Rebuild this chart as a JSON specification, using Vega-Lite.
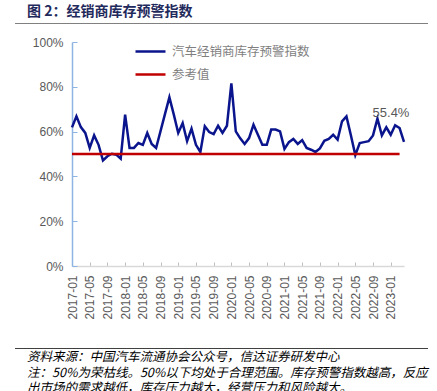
{
  "$schema": "https://vega.github.io/schema/vega-lite/v6.json",
  "padding": {"left": 15, "top": 5, "right": 9, "bottom": 0},
  "spacing": 11,
  "resolve": {"scale": {"color": "independent"}, "legend": {"color": "independent"}},
  "config": {"view": {"stroke": null}, "font": "Liberation Sans"},
  "vconcat": [
    {
      "width": 413,
      "height": 1,
      "view": {"fill": "#808080", "stroke": null},
      "title": {"text": "图 2：经销商库存预警指数", "anchor": "start", "dx": 12, "offset": 4, "font": "Noto Sans CJK SC", "fontSize": 14, "fontWeight": "bold", "color": "#1f2a5c"},
      "data": {"values": []},
      "mark": "point"
    },
    {
      "spacing": 10,
      "resolve": {"scale": {"color": "independent"}, "legend": {"color": "independent"}},
      "hconcat": [
        {"width": 7, "height": 295, "data": {"values": []}, "mark": "point"},
        {
          "width": 332,
          "height": 224,
          "data": {"values": [
            {"month": "2017-01", "汽车经销商库存预警指数": 61.9, "参考值": 50},
            {"month": "2017-02", "汽车经销商库存预警指数": 66.8, "参考值": 50},
            {"month": "2017-03", "汽车经销商库存预警指数": 62.0, "参考值": 50},
            {"month": "2017-04", "汽车经销商库存预警指数": 59.4, "参考值": 50},
            {"month": "2017-05", "汽车经销商库存预警指数": 52.7, "参考值": 50},
            {"month": "2017-06", "汽车经销商库存预警指数": 58.3, "参考值": 50},
            {"month": "2017-07", "汽车经销商库存预警指数": 54.1, "参考值": 50},
            {"month": "2017-08", "汽车经销商库存预警指数": 47.1, "参考值": 50},
            {"month": "2017-09", "汽车经销商库存预警指数": 49.0, "参考值": 50},
            {"month": "2017-10", "汽车经销商库存预警指数": 50.1, "参考值": 50},
            {"month": "2017-11", "汽车经销商库存预警指数": 49.7, "参考值": 50},
            {"month": "2017-12", "汽车经销商库存预警指数": 47.9, "参考值": 50},
            {"month": "2018-01", "汽车经销商库存预警指数": 67.6, "参考值": 50},
            {"month": "2018-02", "汽车经销商库存预警指数": 52.7, "参考值": 50},
            {"month": "2018-03", "汽车经销商库存预警指数": 52.7, "参考值": 50},
            {"month": "2018-04", "汽车经销商库存预警指数": 54.9, "参考值": 50},
            {"month": "2018-05", "汽车经销商库存预警指数": 54.1, "参考值": 50},
            {"month": "2018-06", "汽车经销商库存预警指数": 59.4, "参考值": 50},
            {"month": "2018-07", "汽车经销商库存预警指数": 54.5, "参考值": 50},
            {"month": "2018-08", "汽车经销商库存预警指数": 52.7, "参考值": 50},
            {"month": "2018-09", "汽车经销商库存预警指数": 60.2, "参考值": 50},
            {"month": "2018-10", "汽车经销商库存预警指数": 67.8, "参考值": 50},
            {"month": "2018-11", "汽车经销商库存预警指数": 75.3, "参考值": 50},
            {"month": "2018-12", "汽车经销商库存预警指数": 67.6, "参考值": 50},
            {"month": "2019-01", "汽车经销商库存预警指数": 59.4, "参考值": 50},
            {"month": "2019-02", "汽车经销商库存预警指数": 63.8, "参考值": 50},
            {"month": "2019-03", "汽车经销商库存预警指数": 55.7, "参考值": 50},
            {"month": "2019-04", "汽车经销商库存预警指数": 61.3, "参考值": 50},
            {"month": "2019-05", "汽车经销商库存预警指数": 54.1, "参考值": 50},
            {"month": "2019-06", "汽车经销商库存预警指数": 50.9, "参考值": 50},
            {"month": "2019-07", "汽车经销商库存预警指数": 62.4, "参考值": 50},
            {"month": "2019-08", "汽车经销商库存预警指数": 59.8, "参考值": 50},
            {"month": "2019-09", "汽车经销商库存预警指数": 58.9, "参考值": 50},
            {"month": "2019-10", "汽车经销商库存预警指数": 62.6, "参考值": 50},
            {"month": "2019-11", "汽车经销商库存预警指数": 59.4, "参考值": 50},
            {"month": "2019-12", "汽车经销商库存预警指数": 62.6, "参考值": 50},
            {"month": "2020-01", "汽车经销商库存预警指数": 81.5, "参考值": 50},
            {"month": "2020-02", "汽车经销商库存预警指数": 60.1, "参考值": 50},
            {"month": "2020-03", "汽车经销商库存预警指数": 57.0, "参考值": 50},
            {"month": "2020-04", "汽车经销商库存预警指数": 54.5, "参考值": 50},
            {"month": "2020-05", "汽车经销商库存预警指数": 57.1, "参考值": 50},
            {"month": "2020-06", "汽车经销商库存预警指数": 63.1, "参考值": 50},
            {"month": "2020-07", "汽车经销商库存预警指数": 58.6, "参考值": 50},
            {"month": "2020-08", "汽车经销商库存预警指数": 54.1, "参考值": 50},
            {"month": "2020-09", "汽车经销商库存预警指数": 54.1, "参考值": 50},
            {"month": "2020-10", "汽车经销商库存预警指数": 60.9, "参考值": 50},
            {"month": "2020-11", "汽车经销商库存预警指数": 60.9, "参考值": 50},
            {"month": "2020-12", "汽车经销商库存预警指数": 60.1, "参考值": 50},
            {"month": "2021-01", "汽车经销商库存预警指数": 52.3, "参考值": 50},
            {"month": "2021-02", "汽车经销商库存预警指数": 55.3, "参考值": 50},
            {"month": "2021-03", "汽车经销商库存预警指数": 56.7, "参考值": 50},
            {"month": "2021-04", "汽车经销商库存预警指数": 54.5, "参考值": 50},
            {"month": "2021-05", "汽车经销商库存预警指数": 56.2, "参考值": 50},
            {"month": "2021-06", "汽车经销商库存预警指数": 52.7, "参考值": 50},
            {"month": "2021-07", "汽车经销商库存预警指数": 51.9, "参考值": 50},
            {"month": "2021-08", "汽车经销商库存预警指数": 50.9, "参考值": 50},
            {"month": "2021-09", "汽车经销商库存预警指数": 52.5, "参考值": 50},
            {"month": "2021-10", "汽车经销商库存预警指数": 55.9, "参考值": 50},
            {"month": "2021-11", "汽车经销商库存预警指数": 56.7, "参考值": 50},
            {"month": "2021-12", "汽车经销商库存预警指数": 58.6, "参考值": 50},
            {"month": "2022-01", "汽车经销商库存预警指数": 56.4, "参考值": 50},
            {"month": "2022-02", "汽车经销商库存预警指数": 64.6, "参考值": 50},
            {"month": "2022-03", "汽车经销商库存预警指数": 66.8, "参考值": 50},
            {"month": "2022-04", "汽车经销商库存预警指数": 58.4, "参考值": 50},
            {"month": "2022-05", "汽车经销商库存预警指数": 49.5, "参考值": 50},
            {"month": "2022-06", "汽车经销商库存预警指数": 54.9, "参考值": 50},
            {"month": "2022-07", "汽车经销商库存预警指数": 55.3, "参考值": 50},
            {"month": "2022-08", "汽车经销商库存预警指数": 55.7, "参考值": 50},
            {"month": "2022-09", "汽车经销商库存预警指数": 58.3, "参考值": 50},
            {"month": "2022-10", "汽车经销商库存预警指数": 65.8, "参考值": 50},
            {"month": "2022-11", "汽车经销商库存预警指数": 58.3, "参考值": 50},
            {"month": "2022-12", "汽车经销商库存预警指数": 61.9, "参考值": 50},
            {"month": "2023-01", "汽车经销商库存预警指数": 58.6, "参考值": 50},
            {"month": "2023-02", "汽车经销商库存预警指数": 62.8, "参考值": 50},
            {"month": "2023-03", "汽车经销商库存预警指数": 61.6, "参考值": 50},
            {"month": "2023-04", "汽车经销商库存预警指数": 55.4}
          ]},
          "layer": [
            {
              "transform": [{"fold": ["汽车经销商库存预警指数", "参考值"], "as": ["series", "v"]}],
              "mark": {"type": "line", "strokeWidth": 2.5},
              "encoding": {
                "x": {"field": "month", "type": "ordinal", "scale": {"type": "point", "padding": 0},
                  "axis": {"title": null, "values": ["2017-01","2017-05","2017-09","2018-01","2018-05","2018-09","2019-01","2019-05","2019-09","2020-01","2020-05","2020-09","2021-01","2021-05","2021-09","2022-01","2022-05","2022-09","2023-01"],
                    "labelAngle": -90, "labelColor": "#595959", "labelFontSize": 12, "labelPadding": 13,
                    "domainColor": "#d9d9d9", "domainWidth": 1.5, "tickColor": "#bfbfbf", "tickSize": -4}},
                "y": {"field": "v", "type": "quantitative", "scale": {"domain": [0, 100]},
                  "axis": {"title": null, "grid": false, "values": [0, 20, 40, 60, 80, 100], "labelExpr": "datum.value + '%'",
                    "labelColor": "#595959", "labelFontSize": 12, "labelPadding": 14,
                    "domainColor": "#8eb4e3", "domainWidth": 1.5, "tickColor": "#8eb4e3", "tickSize": -5}},
                "color": {"field": "series", "type": "nominal",
                  "scale": {"domain": ["汽车经销商库存预警指数", "参考值"], "range": ["#0a148c", "#c00000"]},
                  "legend": {"title": null, "orient": "none", "legendX": 62, "legendY": -7, "padding": 0,
                    "symbolType": "stroke", "symbolSize": 900, "symbolStrokeWidth": 2.5, "rowPadding": 0,
                    "labelFont": "Noto Sans CJK SC", "labelFontSize": 12.5, "labelColor": "#7f7f7f", "labelOffset": 5}}
              }
            },
            {
              "transform": [{"filter": "datum.month == '2023-04'"}],
              "mark": {"type": "text", "dx": -13, "dy": -29, "fontSize": 13, "color": "#595959"},
              "encoding": {
                "x": {"field": "month", "type": "ordinal"},
                "y": {"field": "汽车经销商库存预警指数", "type": "quantitative"},
                "text": {"value": "55.4%"}
              }
            }
          ]
        }
      ]
    },
    {
      "width": 413,
      "height": 1,
      "view": {"fill": "#404040", "stroke": null},
      "title": {"text": ["资料来源：中国汽车流通协会公众号，信达证券研发中心", "注：50%为荣枯线。50%以下均处于合理范围。库存预警指数越高，反应", "出市场的需求越低，库存压力越大，经营压力和风险越大。"],
        "orient": "bottom", "anchor": "start", "dx": 12, "offset": 2, "font": "Noto Sans CJK SC", "fontSize": 12.5, "fontWeight": "normal", "fontStyle": "italic", "lineHeight": 15.5, "color": "#000000"},
      "data": {"values": []},
      "mark": "point"
    }
  ]
}
